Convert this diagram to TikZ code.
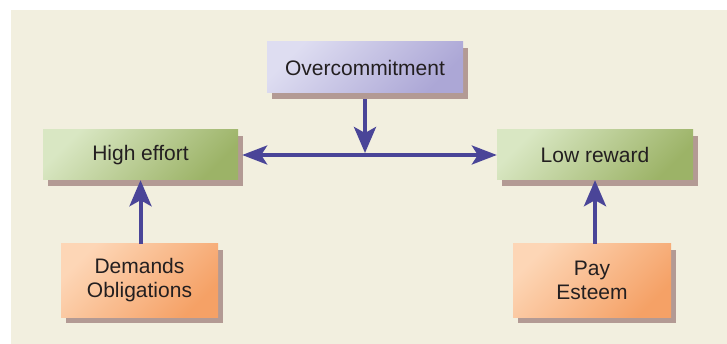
\documentclass[tikz,border=0pt]{standalone}
\usepackage{fontspec}
\setmainfont{Liberation Sans}
\usetikzlibrary{arrows.meta,shadows}

\definecolor{panel}{HTML}{F2EFDF}
\definecolor{shadowc}{HTML}{B39A94}
\definecolor{arrowc}{HTML}{4A4598}
\definecolor{textc}{HTML}{231F20}
\definecolor{lavA}{HTML}{DEDDF1}
\definecolor{lavB}{HTML}{ACA7D6}
\definecolor{grnA}{HTML}{D9E7C3}
\definecolor{grnB}{HTML}{9CB367}
\definecolor{orgA}{HTML}{FDD6B6}
\definecolor{orgB}{HTML}{F5A166}

\tikzset{
  box/.style={draw=none, inner sep=0pt, align=center, text=textc,
    font=\fontsize{21}{24}\selectfont,
    drop shadow={shadow xshift=5pt, shadow yshift=-6pt, fill=shadowc, opacity=1},
    shading angle=45},
  lavbox/.style={box, top color=lavA, bottom color=lavB, shading angle=45},
  grnbox/.style={box, top color=grnA, bottom color=grnB, shading angle=45},
  orgbox/.style={box, top color=orgA, bottom color=orgB, shading angle=45},
  link/.style={draw=arrowc, line width=4pt,
    -{Stealth[length=26pt, width=22pt, inset=6pt]}},
  dlink/.style={draw=arrowc, line width=3.5pt,
    {Stealth[length=25pt, width=19pt, inset=6pt]}-{Stealth[length=25pt, width=19pt, inset=6pt]}}
}

\begin{document}
\begin{tikzpicture}[x=1pt, y=-1pt]
  \useasboundingbox (0,0) rectangle (727,344);
  \fill[panel] (11,10) rectangle (727,344);

  \node[lavbox, minimum width=196pt, minimum height=51pt] (over) at (365,67.5) {Overcommitment};
  \node[grnbox, minimum width=195pt, minimum height=50pt] (high) at (140.5,155) {High effort};
  \node[grnbox, minimum width=196pt, minimum height=50pt] (low) at (595,155) {Low reward};
  \node[orgbox, minimum width=157pt, minimum height=73pt] (dem) at (139.5,280.5) {Demands\\Obligations};
  \node[orgbox, minimum width=158pt, minimum height=73pt] (pay) at (592,280.5) {Pay\\Esteem};

  \coordinate (mid) at (365,155);

  \draw[dlink] ([xshift=4pt]high.east) -- (low.west);
  \draw[link, shorten >=2pt] ([yshift=-6pt]over.south) -- (mid);
  \draw[link] (dem.north -| high.south) -- (high.south);
  \draw[link] (pay.north -| low.south) -- (low.south);
\end{tikzpicture}
\end{document}
